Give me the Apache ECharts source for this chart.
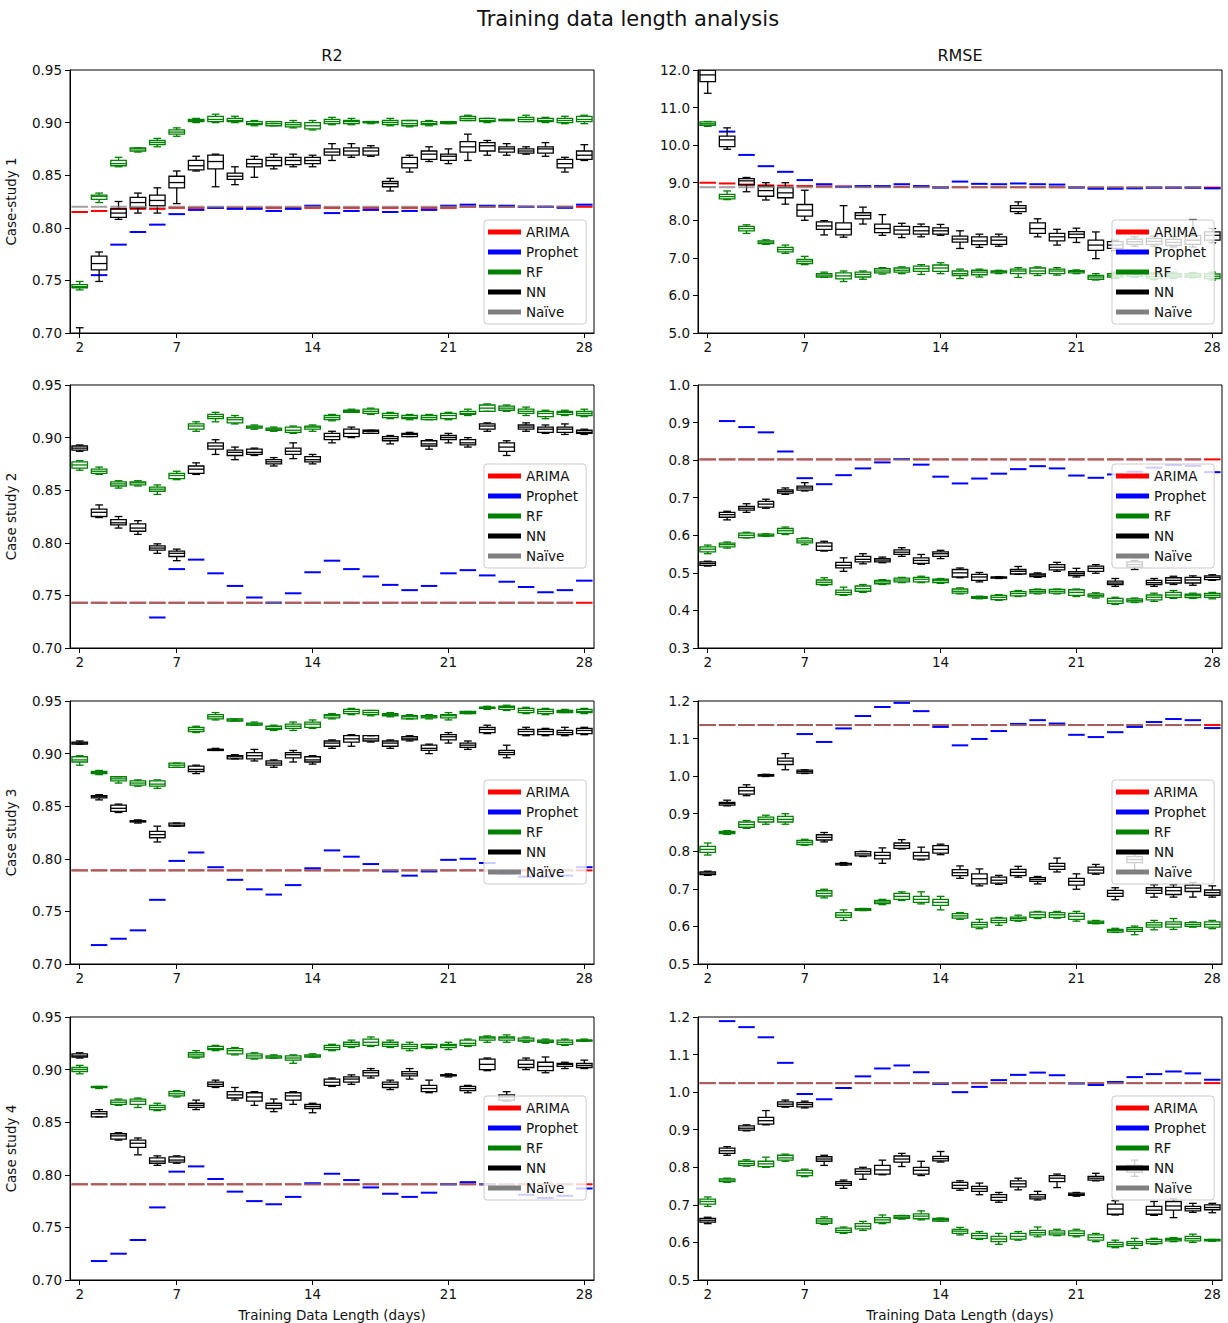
<!DOCTYPE html>
<html><head><meta charset="utf-8">
<script src="https://cdn.jsdelivr.net/npm/echarts/dist/echarts.min.js"></script>
<style>html,body{margin:0;padding:0;background:#fff}#chart{width:1228px;height:1323px}</style>
</head><body><div id="chart"></div>
<script>
// ---------------- DATA ----------------
const categories = ['2','3','4','5','6','7','8','9','10','11','12','13','14','15','16','17','18','19','20','21','22','23','24','25','26','27','28'];
const xTickLabels = ['2','7','14','21','28'];
const seriesNames = ['ARIMA','Prophet','RF','NN','Naïve'];
const rowNames = ['Case-study 1','Case study 2','Case study 3','Case study 4'];
const colTitles = ['R2','RMSE'];
// box stats per category: [min, q1, median, q3, max]

// ---- Case study 1, R2 ----
const c1R2_ARIMA = [0.815,0.816,0.818,0.818,0.818,0.819,0.819,0.819,0.819,0.819,0.819,0.819,0.819,0.819,0.819,0.819,0.819,0.819,0.819,0.819,0.820,0.820,0.820,0.820,0.820,0.820,0.820];
const c1R2_Naive = [0.820,0.820,0.820,0.820,0.820,0.820,0.820,0.820,0.820,0.820,0.820,0.820,0.820,0.820,0.820,0.820,0.820,0.820,0.820,0.820,0.820,0.820,0.820,0.820,0.820,0.820,null];
const c1R2_Prophet = [null,0.755,0.784,0.796,0.803,0.813,0.817,0.819,0.818,0.818,0.816,0.818,0.821,0.814,0.816,0.817,0.815,0.816,0.817,0.821,0.822,0.821,0.821,0.820,0.820,0.819,0.822];
const c1R2_RF = [
[0.741,0.743,0.744,0.746,0.749],[0.824,0.827,0.830,0.831,0.833],[0.858,0.859,0.861,0.864,0.867],[0.872,0.873,0.875,0.876,0.876],
[0.877,0.879,0.881,0.883,0.885],[0.887,0.889,0.891,0.893,0.895],[0.900,0.901,0.902,0.903,0.904],[0.900,0.901,0.903,0.906,0.908],
[0.900,0.901,0.902,0.904,0.906],[0.897,0.898,0.899,0.901,0.902],[0.897,0.897,0.899,0.901,0.901],[0.895,0.896,0.898,0.900,0.902],
[0.893,0.894,0.897,0.900,0.902],[0.898,0.899,0.901,0.903,0.905],[0.898,0.899,0.901,0.902,0.904],[0.899,0.900,0.900,0.901,0.901],
[0.897,0.898,0.900,0.902,0.904],[0.896,0.897,0.899,0.902,0.902],[0.897,0.898,0.899,0.901,0.902],[0.899,0.899,0.900,0.901,0.901],
[0.902,0.902,0.904,0.906,0.907],[0.900,0.901,0.902,0.904,0.904],[0.902,0.902,0.902,0.903,0.903],[0.901,0.901,0.903,0.905,0.907],
[0.900,0.901,0.902,0.904,0.905],[0.899,0.900,0.902,0.904,0.906],[0.899,0.901,0.903,0.906,0.907]];
const c1R2_NN = [
[0.680,0.685,0.690,0.695,0.705],[0.749,0.760,0.766,0.773,0.777],[0.808,0.810,0.814,0.818,0.825],[0.814,0.819,0.824,0.829,0.833],
[0.814,0.821,0.826,0.831,0.838],[0.823,0.838,0.843,0.849,0.854],[0.854,0.855,0.859,0.864,0.868],[0.839,0.856,0.863,0.869,0.870],
[0.841,0.846,0.849,0.852,0.858],[0.848,0.858,0.861,0.865,0.868],[0.856,0.859,0.864,0.867,0.870],[0.858,0.860,0.864,0.867,0.870],
[0.858,0.861,0.864,0.867,0.869],[0.864,0.869,0.872,0.875,0.880],[0.867,0.869,0.873,0.876,0.880],[0.868,0.869,0.873,0.876,0.878],
[0.835,0.839,0.842,0.844,0.847],[0.853,0.857,0.861,0.867,0.869],[0.863,0.865,0.870,0.873,0.877],[0.861,0.864,0.868,0.870,0.875],
[0.864,0.872,0.877,0.882,0.889],[0.869,0.873,0.878,0.881,0.883],[0.869,0.872,0.875,0.877,0.880],[0.870,0.871,0.873,0.875,0.877],
[0.868,0.871,0.875,0.877,0.881],[0.853,0.857,0.861,0.865,0.867],[0.864,0.865,0.869,0.873,0.879]];

// ---- Case study 1, RMSE ----
const c1RMSE_ARIMA = [9.00,8.98,8.95,8.93,8.92,8.91,8.90,8.90,8.89,8.89,8.89,8.89,8.88,8.88,8.88,8.88,8.88,8.88,8.88,8.88,8.87,8.87,8.87,8.87,8.87,8.87,8.87];
const c1RMSE_Naive = [8.88,8.88,8.88,8.88,8.88,8.88,8.88,8.88,8.88,8.88,8.88,8.88,8.88,8.88,8.88,8.88,8.88,8.88,8.88,8.88,8.88,8.88,8.88,8.88,8.88,8.88,null];
const c1RMSE_Prophet = [null,10.36,9.74,9.44,9.29,9.07,8.96,8.89,8.91,8.91,8.96,8.91,8.87,9.03,8.97,8.96,8.98,8.96,8.95,8.87,8.84,8.84,8.85,8.87,8.87,8.87,8.85];
const c1RMSE_RF = [
[10.50,10.53,10.57,10.62,10.63],[8.55,8.57,8.63,8.69,8.78],[7.65,7.72,7.78,7.84,7.88],[7.36,7.38,7.42,7.45,7.48],
[7.12,7.16,7.22,7.28,7.34],[6.82,6.85,6.91,6.96,7.04],[6.48,6.49,6.54,6.58,6.62],[6.37,6.44,6.52,6.60,6.65],
[6.43,6.49,6.56,6.62,6.65],[6.57,6.60,6.65,6.71,6.74],[6.58,6.62,6.67,6.73,6.76],[6.56,6.64,6.71,6.78,6.82],
[6.58,6.64,6.73,6.81,6.87],[6.45,6.53,6.58,6.65,6.70],[6.49,6.55,6.62,6.67,6.70],[6.58,6.60,6.63,6.65,6.67],
[6.48,6.58,6.65,6.70,6.74],[6.53,6.58,6.65,6.73,6.76],[6.54,6.58,6.65,6.70,6.74],[6.58,6.60,6.64,6.66,6.68],
[6.41,6.43,6.49,6.53,6.58],[6.45,6.49,6.54,6.58,6.62],[6.48,6.51,6.56,6.60,6.64],[6.42,6.46,6.51,6.57,6.60],
[6.45,6.49,6.54,6.58,6.62],[6.47,6.49,6.54,6.58,6.61],[6.41,6.45,6.51,6.57,6.62]];
const c1RMSE_NN = [
[11.38,11.69,11.87,12.00,12.10],[9.89,9.96,10.14,10.24,10.46],[8.76,8.94,9.05,9.11,9.14],[8.54,8.64,8.79,8.91,9.00],
[8.43,8.60,8.73,8.87,9.00],[8.00,8.11,8.27,8.42,8.80],[7.61,7.76,7.85,7.96,7.99],[7.55,7.61,7.76,7.93,8.39],
[7.90,8.04,8.13,8.20,8.35],[7.60,7.67,7.78,7.90,8.15],[7.54,7.63,7.74,7.84,7.92],[7.56,7.63,7.72,7.83,7.90],
[7.60,7.63,7.72,7.80,7.89],[7.25,7.42,7.50,7.58,7.72],[7.28,7.35,7.45,7.56,7.63],[7.31,7.36,7.47,7.56,7.63],
[8.18,8.23,8.32,8.39,8.49],[7.56,7.65,7.78,7.93,8.04],[7.34,7.45,7.56,7.65,7.76],[7.41,7.54,7.63,7.70,7.79],
[6.98,7.20,7.34,7.47,7.69],[7.19,7.25,7.34,7.43,7.47],[7.31,7.36,7.43,7.50,7.56],[7.31,7.36,7.44,7.52,7.58],
[7.29,7.33,7.41,7.49,7.56],[7.29,7.36,7.47,7.60,8.02],[7.40,7.47,7.60,7.69,7.78]];

// ---- Case study 2, R2 ----
const c2R2_ARIMA = [0.743,0.743,0.743,0.743,0.743,0.743,0.743,0.743,0.743,0.743,0.743,0.743,0.743,0.743,0.743,0.743,0.743,0.743,0.743,0.743,0.743,0.743,0.743,0.743,0.743,0.743,0.743];
const c2R2_Naive = [0.743,0.743,0.743,0.743,0.743,0.743,0.743,0.743,0.743,0.743,0.743,0.743,0.743,0.743,0.743,0.743,0.743,0.743,0.743,0.743,0.743,0.743,0.743,0.743,0.743,0.743,null];
const c2R2_Prophet = [null,null,null,null,0.729,0.775,0.784,0.771,0.759,0.748,0.743,0.752,0.772,0.783,0.775,0.768,0.760,0.755,0.759,0.771,0.774,0.769,0.763,0.758,0.753,0.755,0.764];
const c2R2_RF = [
[0.869,0.871,0.874,0.877,0.878],[0.865,0.866,0.868,0.870,0.872],[0.852,0.854,0.856,0.858,0.859],[0.854,0.855,0.857,0.858,0.859],
[0.846,0.849,0.851,0.853,0.855],[0.860,0.861,0.864,0.866,0.868],[0.906,0.908,0.911,0.913,0.915],[0.915,0.918,0.920,0.922,0.924],
[0.913,0.914,0.917,0.919,0.921],[0.908,0.909,0.910,0.911,0.912],[0.906,0.907,0.908,0.909,0.910],[0.904,0.905,0.907,0.910,0.911],
[0.906,0.908,0.910,0.911,0.912],[0.916,0.917,0.919,0.921,0.922],[0.924,0.924,0.925,0.926,0.927],[0.922,0.923,0.925,0.927,0.928],
[0.918,0.919,0.921,0.923,0.924],[0.917,0.918,0.919,0.921,0.922],[0.917,0.917,0.919,0.921,0.922],[0.917,0.918,0.921,0.923,0.924],
[0.921,0.922,0.923,0.925,0.927],[0.925,0.925,0.928,0.931,0.932],[0.925,0.926,0.928,0.930,0.931],[0.921,0.923,0.925,0.927,0.929],
[0.918,0.920,0.923,0.925,0.926],[0.921,0.922,0.924,0.925,0.926],[0.920,0.921,0.923,0.925,0.927]];
const c2R2_NN = [
[0.887,0.888,0.890,0.892,0.893],[0.824,0.825,0.829,0.832,0.836],[0.814,0.817,0.819,0.822,0.825],[0.808,0.811,0.814,0.818,0.821],
[0.790,0.793,0.795,0.797,0.799],[0.783,0.787,0.790,0.792,0.794],[0.865,0.866,0.870,0.873,0.876],[0.884,0.889,0.892,0.895,0.898],
[0.879,0.883,0.886,0.888,0.891],[0.883,0.884,0.886,0.889,0.890],[0.873,0.875,0.877,0.879,0.881],[0.880,0.884,0.887,0.890,0.895],
[0.875,0.877,0.879,0.882,0.884],[0.895,0.898,0.901,0.904,0.906],[0.900,0.901,0.904,0.908,0.910],[0.904,0.904,0.906,0.907,0.907],
[0.894,0.897,0.899,0.901,0.902],[0.901,0.901,0.903,0.904,0.905],[0.889,0.892,0.894,0.897,0.898],[0.895,0.898,0.900,0.902,0.904],
[0.891,0.893,0.895,0.898,0.900],[0.906,0.908,0.911,0.913,0.914],[0.883,0.887,0.891,0.895,0.897],[0.906,0.908,0.910,0.912,0.914],
[0.904,0.905,0.908,0.910,0.912],[0.903,0.905,0.908,0.910,0.913],[0.903,0.904,0.905,0.907,0.908]];

// ---- Case study 2, RMSE ----
const c2RMSE_ARIMA = [0.802,0.802,0.802,0.802,0.802,0.802,0.802,0.802,0.802,0.802,0.802,0.802,0.802,0.802,0.802,0.802,0.802,0.802,0.802,0.802,0.802,0.802,0.802,0.802,0.802,0.802,0.802];
const c2RMSE_Naive = [0.802,0.802,0.802,0.802,0.802,0.802,0.802,0.802,0.802,0.802,0.802,0.802,0.802,0.802,0.802,0.802,0.802,0.802,0.802,0.802,0.802,0.802,0.802,0.802,0.802,0.802,null];
const c2RMSE_Prophet = [null,0.904,0.888,0.874,0.823,0.752,0.736,0.760,0.778,0.794,0.803,0.788,0.756,0.738,0.751,0.764,0.776,0.784,0.778,0.759,0.753,0.762,0.769,0.780,0.787,0.785,0.768];
const c2RMSE_RF = [
[0.551,0.556,0.563,0.569,0.574],[0.566,0.569,0.575,0.579,0.582],[0.593,0.594,0.600,0.606,0.608],[0.597,0.598,0.600,0.603,0.604],
[0.602,0.605,0.612,0.618,0.622],[0.575,0.580,0.585,0.591,0.593],[0.467,0.469,0.475,0.481,0.487],[0.440,0.442,0.448,0.454,0.462],
[0.448,0.451,0.458,0.465,0.469],[0.469,0.471,0.476,0.480,0.482],[0.474,0.476,0.481,0.486,0.488],[0.474,0.476,0.483,0.488,0.491],
[0.472,0.474,0.479,0.483,0.485],[0.444,0.446,0.451,0.457,0.460],[0.431,0.432,0.434,0.437,0.438],[0.427,0.429,0.435,0.440,0.442],
[0.437,0.439,0.445,0.450,0.453],[0.444,0.446,0.450,0.455,0.457],[0.444,0.446,0.451,0.456,0.457],[0.437,0.440,0.448,0.455,0.457],
[0.433,0.436,0.440,0.444,0.447],[0.416,0.419,0.425,0.432,0.435],[0.421,0.423,0.427,0.431,0.433],[0.424,0.428,0.435,0.441,0.446],
[0.432,0.435,0.441,0.448,0.453],[0.432,0.434,0.439,0.443,0.446],[0.431,0.435,0.440,0.445,0.448]];
const c2RMSE_NN = [
[0.518,0.520,0.525,0.529,0.531],[0.641,0.648,0.655,0.661,0.664],[0.661,0.667,0.672,0.677,0.684],[0.672,0.675,0.683,0.690,0.696],
[0.709,0.712,0.717,0.721,0.726],[0.718,0.720,0.726,0.731,0.740],[0.558,0.560,0.571,0.580,0.584],[0.504,0.513,0.520,0.528,0.540],
[0.524,0.529,0.536,0.544,0.551],[0.527,0.529,0.534,0.538,0.542],[0.544,0.549,0.555,0.561,0.567],[0.523,0.525,0.533,0.540,0.549],
[0.538,0.544,0.551,0.556,0.560],[0.487,0.489,0.500,0.509,0.513],[0.476,0.480,0.489,0.496,0.501],[0.485,0.486,0.488,0.489,0.490],
[0.496,0.497,0.504,0.509,0.517],[0.488,0.490,0.494,0.497,0.500],[0.504,0.508,0.515,0.522,0.528],[0.489,0.493,0.498,0.503,0.512],
[0.499,0.504,0.512,0.518,0.522],[0.464,0.469,0.473,0.478,0.485],[0.509,0.515,0.522,0.529,0.533],[0.464,0.469,0.474,0.480,0.485],
[0.469,0.473,0.480,0.487,0.491],[0.467,0.473,0.481,0.488,0.492],[0.480,0.482,0.488,0.492,0.495]];

// ---- Case study 3, R2 ----
const c3R2_ARIMA = [0.789,0.789,0.789,0.789,0.789,0.789,0.789,0.789,0.789,0.789,0.789,0.789,0.789,0.789,0.789,0.789,0.789,0.789,0.789,0.789,0.789,0.789,0.789,0.789,0.789,0.789,0.789];
const c3R2_Naive = [0.789,0.789,0.789,0.789,0.789,0.789,0.789,0.789,0.789,0.789,0.789,0.789,0.789,0.789,0.789,0.789,0.789,0.789,0.789,0.789,0.789,0.789,0.789,0.789,0.789,0.789,null];
const c3R2_Prophet = [null,0.718,0.724,0.732,0.761,0.798,0.806,0.792,0.780,0.771,0.766,0.775,0.791,0.808,0.802,0.795,0.788,0.784,0.788,0.799,0.800,0.796,0.786,0.783,0.783,0.784,0.792];
const c3R2_RF = [
[0.889,0.892,0.894,0.897,0.898],[0.880,0.881,0.882,0.883,0.884],[0.872,0.874,0.876,0.878,0.878],[0.869,0.870,0.872,0.874,0.875],
[0.867,0.869,0.871,0.874,0.875],[0.887,0.887,0.889,0.891,0.891],[0.920,0.921,0.923,0.925,0.926],[0.932,0.933,0.935,0.937,0.939],
[0.931,0.931,0.932,0.933,0.933],[0.927,0.927,0.928,0.929,0.930],[0.922,0.923,0.924,0.926,0.927],[0.922,0.924,0.926,0.928,0.930],
[0.924,0.925,0.928,0.930,0.932],[0.933,0.934,0.936,0.937,0.938],[0.937,0.938,0.940,0.942,0.943],[0.936,0.937,0.939,0.941,0.941],
[0.935,0.936,0.937,0.938,0.939],[0.933,0.933,0.935,0.936,0.937],[0.933,0.934,0.935,0.936,0.937],[0.932,0.934,0.936,0.937,0.939],
[0.938,0.938,0.939,0.940,0.940],[0.942,0.943,0.944,0.944,0.945],[0.941,0.942,0.944,0.945,0.946],[0.938,0.939,0.941,0.943,0.944],
[0.937,0.938,0.940,0.942,0.943],[0.939,0.939,0.940,0.941,0.942],[0.938,0.939,0.940,0.942,0.943]];
const c3R2_NN = [
[0.909,0.909,0.910,0.911,0.912],[0.856,0.858,0.859,0.860,0.861],[0.844,0.845,0.848,0.851,0.852],[0.834,0.835,0.836,0.836,0.837],
[0.816,0.820,0.823,0.826,0.831],[0.831,0.831,0.832,0.834,0.834],[0.881,0.883,0.885,0.888,0.889],[0.903,0.903,0.904,0.904,0.905],
[0.895,0.895,0.897,0.898,0.899],[0.893,0.895,0.898,0.901,0.904],[0.887,0.889,0.891,0.893,0.894],[0.892,0.896,0.899,0.901,0.903],
[0.890,0.892,0.894,0.897,0.898],[0.905,0.907,0.910,0.912,0.913],[0.907,0.911,0.914,0.917,0.918],[0.911,0.912,0.914,0.917,0.917],
[0.905,0.907,0.910,0.912,0.913],[0.912,0.913,0.914,0.916,0.917],[0.900,0.903,0.905,0.908,0.909],[0.910,0.913,0.916,0.918,0.920],
[0.904,0.906,0.908,0.910,0.912],[0.919,0.920,0.923,0.925,0.927],[0.896,0.899,0.901,0.903,0.908],[0.917,0.918,0.921,0.923,0.925],
[0.917,0.918,0.921,0.923,0.924],[0.917,0.918,0.920,0.922,0.925],[0.918,0.919,0.922,0.924,0.925]];

// ---- Case study 3, RMSE ----
const c3RMSE_ARIMA = [1.136,1.136,1.136,1.136,1.136,1.136,1.136,1.136,1.136,1.136,1.136,1.136,1.136,1.136,1.136,1.136,1.136,1.136,1.136,1.136,1.136,1.136,1.136,1.136,1.136,1.136,1.136];
const c3RMSE_Naive = [1.136,1.136,1.136,1.136,1.136,1.136,1.136,1.136,1.136,1.136,1.136,1.136,1.136,1.136,1.136,1.136,1.136,1.136,1.136,1.136,1.136,1.136,1.136,1.136,1.136,1.136,null];
const c3RMSE_Prophet = [null,null,null,null,null,1.112,1.091,1.127,1.160,1.184,1.195,1.173,1.131,1.082,1.099,1.120,1.139,1.149,1.140,1.110,1.104,1.117,1.131,1.144,1.152,1.149,1.128];
const c3RMSE_RF = [
[0.790,0.797,0.805,0.813,0.822],[0.845,0.847,0.850,0.853,0.855],[0.861,0.864,0.871,0.878,0.882],[0.872,0.878,0.885,0.891,0.896],
[0.872,0.878,0.885,0.893,0.900],[0.816,0.818,0.824,0.829,0.832],[0.676,0.681,0.688,0.695,0.699],[0.616,0.624,0.630,0.637,0.644],
[0.642,0.643,0.645,0.647,0.648],[0.658,0.661,0.665,0.669,0.672],[0.669,0.672,0.680,0.688,0.692],[0.660,0.664,0.672,0.680,0.692],
[0.644,0.656,0.664,0.672,0.680],[0.619,0.622,0.628,0.634,0.637],[0.594,0.598,0.605,0.611,0.619],[0.603,0.610,0.616,0.622,0.624],
[0.614,0.616,0.621,0.625,0.630],[0.621,0.624,0.631,0.638,0.640],[0.622,0.624,0.631,0.637,0.640],[0.614,0.619,0.627,0.635,0.640],
[0.607,0.608,0.611,0.614,0.616],[0.584,0.585,0.589,0.592,0.595],[0.578,0.587,0.592,0.597,0.601],[0.591,0.598,0.604,0.610,0.616],
[0.592,0.598,0.606,0.612,0.621],[0.598,0.600,0.605,0.610,0.612],[0.594,0.598,0.605,0.612,0.616]];
const c3RMSE_NN = [
[0.736,0.738,0.742,0.745,0.747],[0.921,0.923,0.927,0.930,0.936],[0.948,0.952,0.961,0.970,0.977],[0.999,1.000,1.002,1.004,1.005],
[1.017,1.031,1.040,1.048,1.060],[1.007,1.008,1.012,1.016,1.017],[0.825,0.830,0.837,0.844,0.850],[0.763,0.764,0.767,0.768,0.770],
[0.786,0.788,0.793,0.799,0.800],[0.768,0.780,0.789,0.797,0.809],[0.806,0.808,0.815,0.822,0.831],[0.777,0.779,0.788,0.797,0.811],
[0.791,0.795,0.805,0.815,0.819],[0.728,0.735,0.743,0.751,0.761],[0.708,0.713,0.727,0.740,0.753],[0.712,0.715,0.723,0.731,0.736],
[0.731,0.735,0.744,0.752,0.760],[0.713,0.720,0.725,0.730,0.733],[0.745,0.752,0.760,0.768,0.782],[0.699,0.710,0.720,0.728,0.740],
[0.739,0.742,0.750,0.758,0.765],[0.671,0.680,0.688,0.696,0.703],[0.746,0.770,0.778,0.786,0.793],[0.678,0.688,0.696,0.703,0.711],
[0.678,0.685,0.695,0.704,0.711],[0.678,0.693,0.702,0.710,0.717],[0.678,0.683,0.690,0.697,0.708]];

// ---- Case study 4, R2 ----
const c4R2_ARIMA = [0.791,0.791,0.791,0.791,0.791,0.791,0.791,0.791,0.791,0.791,0.791,0.791,0.791,0.791,0.791,0.791,0.791,0.791,0.791,0.791,0.791,0.791,0.791,0.791,0.791,0.791,0.791];
const c4R2_Naive = [0.791,0.791,0.791,0.791,0.791,0.791,0.791,0.791,0.791,0.791,0.791,0.791,0.791,0.791,0.791,0.791,0.791,0.791,0.791,0.791,0.791,0.791,0.791,0.791,0.791,0.791,null];
const c4R2_Prophet = [null,0.718,0.725,0.738,0.769,0.803,0.808,0.796,0.784,0.775,0.772,0.779,0.792,0.801,0.795,0.788,0.782,0.779,0.783,0.791,0.793,0.791,0.788,0.781,0.778,0.780,0.787];
const c4R2_RF = [
[0.896,0.898,0.900,0.902,0.904],[0.882,0.883,0.883,0.884,0.884],[0.866,0.867,0.869,0.871,0.872],[0.864,0.867,0.870,0.872,0.873],
[0.861,0.862,0.864,0.866,0.868],[0.874,0.875,0.877,0.879,0.880],[0.911,0.912,0.914,0.916,0.918],[0.918,0.919,0.920,0.922,0.923],
[0.914,0.915,0.918,0.920,0.921],[0.910,0.911,0.913,0.915,0.916],[0.911,0.911,0.912,0.913,0.914],[0.906,0.909,0.911,0.913,0.914],
[0.912,0.912,0.913,0.914,0.915],[0.918,0.919,0.921,0.923,0.924],[0.921,0.922,0.924,0.926,0.928],[0.922,0.923,0.926,0.929,0.931],
[0.921,0.922,0.924,0.926,0.928],[0.918,0.920,0.922,0.924,0.926],[0.920,0.921,0.922,0.924,0.924],[0.919,0.921,0.923,0.924,0.926],
[0.922,0.923,0.925,0.928,0.929],[0.926,0.928,0.930,0.931,0.932],[0.926,0.928,0.930,0.931,0.933],[0.926,0.927,0.928,0.930,0.931],
[0.925,0.926,0.927,0.928,0.929],[0.923,0.924,0.926,0.928,0.929],[0.927,0.927,0.928,0.928,0.929]];
const c4R2_NN = [
[0.911,0.912,0.913,0.915,0.916],[0.855,0.855,0.858,0.860,0.862],[0.833,0.834,0.837,0.839,0.840],[0.819,0.826,0.830,0.833,0.835],
[0.809,0.811,0.813,0.816,0.818],[0.811,0.812,0.814,0.817,0.818],[0.862,0.864,0.866,0.868,0.871],[0.883,0.884,0.886,0.888,0.890],
[0.871,0.873,0.876,0.879,0.883],[0.866,0.870,0.874,0.878,0.879],[0.860,0.863,0.866,0.868,0.872],[0.867,0.871,0.875,0.878,0.879],
[0.859,0.863,0.865,0.867,0.868],[0.884,0.885,0.888,0.891,0.892],[0.886,0.888,0.891,0.893,0.895],[0.892,0.894,0.897,0.899,0.901],
[0.881,0.883,0.886,0.888,0.890],[0.891,0.894,0.896,0.898,0.901],[0.878,0.879,0.882,0.885,0.890],[0.893,0.894,0.895,0.895,0.896],
[0.878,0.880,0.882,0.884,0.885],[0.899,0.900,0.905,0.910,0.911],[0.870,0.871,0.874,0.876,0.879],[0.900,0.902,0.905,0.909,0.911],
[0.897,0.899,0.903,0.907,0.912],[0.901,0.903,0.905,0.906,0.907],[0.901,0.902,0.904,0.906,0.909]];

// ---- Case study 4, RMSE ----
const c4RMSE_ARIMA = [1.024,1.024,1.024,1.024,1.024,1.024,1.024,1.024,1.024,1.024,1.024,1.024,1.024,1.024,1.024,1.024,1.024,1.024,1.024,1.024,1.024,1.024,1.024,1.024,1.024,1.024,1.024];
const c4RMSE_Naive = [1.024,1.024,1.024,1.024,1.024,1.024,1.024,1.024,1.024,1.024,1.024,1.024,1.024,1.024,1.024,1.024,1.024,1.024,1.024,1.024,1.024,1.024,1.024,1.024,1.024,1.024,null];
const c4RMSE_Prophet = [null,1.189,1.173,1.146,1.078,0.995,0.981,1.011,1.042,1.063,1.071,1.053,1.022,1.000,1.014,1.032,1.046,1.052,1.045,1.023,1.019,1.027,1.040,1.048,1.055,1.050,1.033];
const c4RMSE_RF = [
[0.696,0.702,0.709,0.715,0.721],[0.760,0.762,0.766,0.769,0.771],[0.803,0.805,0.810,0.816,0.820],[0.800,0.802,0.809,0.816,0.827],
[0.816,0.819,0.825,0.832,0.835],[0.775,0.778,0.785,0.792,0.795],[0.648,0.651,0.657,0.663,0.668],[0.624,0.627,0.632,0.638,0.641],
[0.632,0.636,0.643,0.650,0.656],[0.650,0.653,0.660,0.666,0.673],[0.662,0.664,0.667,0.671,0.672],[0.660,0.663,0.670,0.676,0.684],
[0.656,0.657,0.661,0.664,0.665],[0.620,0.624,0.630,0.635,0.640],[0.608,0.611,0.618,0.624,0.629],[0.595,0.602,0.609,0.616,0.624],
[0.606,0.609,0.616,0.624,0.629],[0.615,0.620,0.626,0.632,0.641],[0.618,0.620,0.625,0.631,0.635],[0.615,0.618,0.624,0.631,0.635],
[0.602,0.606,0.613,0.620,0.624],[0.586,0.589,0.594,0.600,0.606],[0.584,0.592,0.597,0.602,0.611],[0.595,0.597,0.602,0.608,0.611],
[0.602,0.604,0.608,0.611,0.613],[0.600,0.604,0.610,0.616,0.622],[0.603,0.604,0.606,0.608,0.608]];
const c4RMSE_NN = [
[0.650,0.654,0.659,0.664,0.667],[0.832,0.837,0.844,0.851,0.855],[0.897,0.899,0.904,0.910,0.913],[0.913,0.915,0.924,0.933,0.951],
[0.960,0.962,0.968,0.974,0.979],[0.958,0.961,0.967,0.972,0.976],[0.805,0.816,0.822,0.828,0.832],[0.744,0.752,0.757,0.762,0.766],
[0.768,0.782,0.789,0.796,0.800],[0.780,0.782,0.793,0.805,0.819],[0.802,0.814,0.822,0.830,0.837],[0.778,0.782,0.792,0.800,0.816],
[0.814,0.817,0.823,0.829,0.842],[0.739,0.744,0.752,0.760,0.764],[0.727,0.736,0.743,0.749,0.758],[0.707,0.712,0.720,0.727,0.733],
[0.740,0.748,0.756,0.764,0.771],[0.713,0.716,0.721,0.727,0.736],[0.746,0.762,0.771,0.778,0.782],[0.723,0.725,0.728,0.731,0.733],
[0.764,0.766,0.771,0.776,0.784],[0.673,0.675,0.689,0.702,0.711],[0.776,0.787,0.796,0.805,0.819],[0.672,0.675,0.686,0.696,0.709],
[0.666,0.686,0.697,0.709,0.716],[0.680,0.684,0.690,0.696,0.704],[0.679,0.687,0.693,0.700,0.704]];

// ---------------- LAYOUT / STYLE ----------------
const FONT = 'DejaVu Sans';
const TXT = '#111111';
const COLORS = {'ARIMA':'#ff0000','Prophet':'#0000ff','RF':'#008000','NN':'#000000','Naïve':'#808080'};
const GRID_LEFT = [70, 698], GRID_W = 524;
const GRID_TOP = [70, 385, 701, 1017], GRID_H = 263;
const LEGEND_OFF = [150, 79, 79, 79];

const panels = [
  {r:0,c:0,min:0.70,max:0.95,step:0.05,dec:2,arima:c1R2_ARIMA,prophet:c1R2_Prophet,rf:c1R2_RF,nn:c1R2_NN,naive:c1R2_Naive},
  {r:0,c:1,min:5,max:12,step:1,dec:1,arima:c1RMSE_ARIMA,prophet:c1RMSE_Prophet,rf:c1RMSE_RF,nn:c1RMSE_NN,naive:c1RMSE_Naive},
  {r:1,c:0,min:0.70,max:0.95,step:0.05,dec:2,arima:c2R2_ARIMA,prophet:c2R2_Prophet,rf:c2R2_RF,nn:c2R2_NN,naive:c2R2_Naive},
  {r:1,c:1,min:0.3,max:1.0,step:0.1,dec:1,arima:c2RMSE_ARIMA,prophet:c2RMSE_Prophet,rf:c2RMSE_RF,nn:c2RMSE_NN,naive:c2RMSE_Naive},
  {r:2,c:0,min:0.70,max:0.95,step:0.05,dec:2,arima:c3R2_ARIMA,prophet:c3R2_Prophet,rf:c3R2_RF,nn:c3R2_NN,naive:c3R2_Naive},
  {r:2,c:1,min:0.5,max:1.2,step:0.1,dec:1,arima:c3RMSE_ARIMA,prophet:c3RMSE_Prophet,rf:c3RMSE_RF,nn:c3RMSE_NN,naive:c3RMSE_Naive},
  {r:3,c:0,min:0.70,max:0.95,step:0.05,dec:2,arima:c4R2_ARIMA,prophet:c4R2_Prophet,rf:c4R2_RF,nn:c4R2_NN,naive:c4R2_Naive},
  {r:3,c:1,min:0.5,max:1.2,step:0.1,dec:1,arima:c4RMSE_ARIMA,prophet:c4RMSE_Prophet,rf:c4RMSE_RF,nn:c4RMSE_NN,naive:c4RMSE_Naive}
];

function showTick(index, value) { return xTickLabels.indexOf(String(value)) >= 0; }

function renderBox(params, api) {
  const md = api.value(3);
  if (md == null || isNaN(md)) return null;
  const xi = api.value(0);
  const lo = api.value(1), q1 = api.value(2), q3 = api.value(4), hi = api.value(5);
  const band = api.size([1, 0])[0];
  const bw = band * 0.8, cw = bw * 0.5;
  const cx = api.coord([xi, md])[0];
  const Y = v => api.coord([xi, v])[1];
  const col = api.visual('color');
  const st = {stroke: col, lineWidth: 1.3, fill: 'none'};
  const yLo = Y(lo), yQ1 = Y(q1), yMd = Y(md), yQ3 = Y(q3), yHi = Y(hi);
  return {type: 'group', children: [
    {type:'line', shape:{x1:cx, y1:yHi, x2:cx, y2:yQ3}, style: st},
    {type:'line', shape:{x1:cx, y1:yQ1, x2:cx, y2:yLo}, style: st},
    {type:'line', shape:{x1:cx - cw/2, y1:yHi, x2:cx + cw/2, y2:yHi}, style: st},
    {type:'line', shape:{x1:cx - cw/2, y1:yLo, x2:cx + cw/2, y2:yLo}, style: st},
    {type:'rect', shape:{x:cx - bw/2, y:yQ3, width:bw, height:yQ1 - yQ3}, style: st},
    {type:'line', shape:{x1:cx - bw/2, y1:yMd, x2:cx + bw/2, y2:yMd}, style: st}
  ]};
}

function makeDashRenderer(opacity) {
  return function (params, api) {
    const v = api.value(1);
    if (v == null || isNaN(v)) return null;
    const xi = api.value(0);
    const band = api.size([1, 0])[0];
    const w = band * 0.85;
    const p = api.coord([xi, v]);
    return {type:'line', shape:{x1:p[0] - w/2, y1:p[1], x2:p[0] + w/2, y2:p[1]},
            style:{stroke: api.visual('color'), lineWidth: 2, opacity: opacity}};
  };
}

const grid = [], xAxis = [], yAxis = [], series = [], legend = [];
panels.forEach((p, i) => {
  grid.push({left: GRID_LEFT[p.c], top: GRID_TOP[p.r], width: GRID_W, height: GRID_H,
             show: true, borderColor: '#000', borderWidth: 1, backgroundColor: 'transparent'});
  xAxis.push({
    type: 'category', gridIndex: i, data: categories, boundaryGap: true,
    axisLine: {show: true, lineStyle: {color: '#000', width: 1}},
    axisTick: {show: true, alignWithLabel: true, interval: showTick, length: 5, lineStyle: {color: '#000'}},
    axisLabel: {interval: showTick, margin: 7, fontSize: 13.5, color: TXT, fontFamily: FONT},
    splitLine: {show: false},
    name: p.r === 3 ? 'Training Data Length (days)' : '',
    nameLocation: 'middle', nameGap: 28,
    nameTextStyle: {fontSize: 13.5, color: TXT, fontFamily: FONT}
  });
  yAxis.push({
    type: 'value', gridIndex: i, min: p.min, max: p.max, interval: p.step,
    axisLine: {show: true, lineStyle: {color: '#000', width: 1}},
    axisTick: {show: true, length: 5, lineStyle: {color: '#000'}},
    axisLabel: {formatter: v => v.toFixed(p.dec), margin: 8, fontSize: 13.5, color: TXT, fontFamily: FONT},
    splitLine: {show: false},
    name: p.c === 0 ? rowNames[p.r] : '',
    nameLocation: 'middle', nameGap: 52, nameRotate: 90,
    nameTextStyle: {fontSize: 13.5, color: TXT, fontFamily: FONT}
  });
  const toBox = arr => arr.map((b, k) => [k, b[0], b[1], b[2], b[3], b[4]]);
  const toDash = arr => arr.map((v, k) => [k, v]);
  const common = {type: 'custom', xAxisIndex: i, yAxisIndex: i, clip: true, silent: true, animation: false};
  series.push(Object.assign({}, common, {name: 'ARIMA', itemStyle: {color: COLORS['ARIMA']}, renderItem: makeDashRenderer(1), data: toDash(p.arima), encode: {x: 0, y: 1}}));
  series.push(Object.assign({}, common, {name: 'Prophet', itemStyle: {color: COLORS['Prophet']}, renderItem: makeDashRenderer(1), data: toDash(p.prophet), encode: {x: 0, y: 1}}));
  series.push(Object.assign({}, common, {name: 'RF', itemStyle: {color: COLORS['RF']}, renderItem: renderBox, data: toBox(p.rf), encode: {x: 0, y: [1,2,3,4,5]}}));
  series.push(Object.assign({}, common, {name: 'NN', itemStyle: {color: COLORS['NN']}, renderItem: renderBox, data: toBox(p.nn), encode: {x: 0, y: [1,2,3,4,5]}}));
  series.push(Object.assign({}, common, {name: 'Naïve', itemStyle: {color: COLORS['Naïve']}, renderItem: makeDashRenderer(0.75), data: toDash(p.naive), encode: {x: 0, y: 1}}));
  legend.push({
    orient: 'vertical', left: GRID_LEFT[p.c] + 414, top: GRID_TOP[p.r] + LEGEND_OFF[p.r],
    padding: [5, 8, 5, 4], itemGap: 6, itemWidth: 33, itemHeight: 5, icon: 'rect',
    backgroundColor: 'rgba(255,255,255,0.8)', borderColor: '#cccccc', borderWidth: 1, borderRadius: 3,
    selectedMode: false,
    textStyle: {fontSize: 13.5, color: TXT, fontFamily: FONT, lineHeight: 14},
    data: seriesNames.map(n => ({name: n, itemStyle: {color: COLORS[n], borderWidth: 0}}))
  });
});

const graphic = [
  {type: 'text', x: 628, y: 19, style: {text: 'Training data length analysis', fill: TXT, font: '21px "DejaVu Sans"', align: 'center', verticalAlign: 'middle'}},
  {type: 'text', x: 332, y: 55, style: {text: colTitles[0], fill: TXT, font: '16px "DejaVu Sans"', align: 'center', verticalAlign: 'middle'}},
  {type: 'text', x: 960, y: 55, style: {text: colTitles[1], fill: TXT, font: '16px "DejaVu Sans"', align: 'center', verticalAlign: 'middle'}}
];

const chart = echarts.init(document.getElementById('chart'), null, {renderer: 'svg'});
chart.setOption({
  animation: false,
  backgroundColor: '#ffffff',
  textStyle: {fontFamily: FONT},
  grid, xAxis, yAxis, series, legend, graphic
});
</script></body></html>
